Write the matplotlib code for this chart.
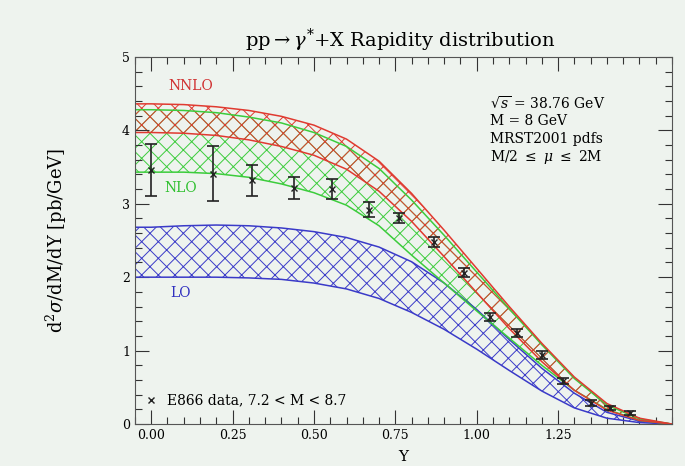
import numpy as np
import matplotlib
matplotlib.use("Agg")
import matplotlib.pyplot as plt
from matplotlib.ticker import MultipleLocator

# rapidity grid for the theory bands
y_grid = [-0.05, 0.0, 0.1, 0.2, 0.3, 0.4, 0.5, 0.6, 0.7, 0.8, 0.9, 1.0, 1.1, 1.2, 1.3, 1.4, 1.5, 1.6]

# NNLO band (red)
nnlo_hi = [4.36, 4.36, 4.35, 4.32, 4.27, 4.19, 4.07, 3.88, 3.58, 3.14, 2.64, 2.12, 1.60, 1.10, 0.64, 0.28, 0.08, 0.0]
nnlo_lo = [3.97, 3.97, 3.96, 3.93, 3.87, 3.78, 3.66, 3.47, 3.17, 2.76, 2.28, 1.79, 1.30, 0.85, 0.46, 0.19, 0.05, 0.0]

# NLO band (green)
nlo_hi = [4.28, 4.28, 4.27, 4.24, 4.18, 4.10, 3.97, 3.78, 3.48, 3.05, 2.57, 2.07, 1.57, 1.08, 0.62, 0.26, 0.07, 0.0]
nlo_lo = [3.43, 3.43, 3.43, 3.41, 3.36, 3.27, 3.15, 2.98, 2.70, 2.30, 1.92, 1.54, 1.17, 0.80, 0.46, 0.20, 0.05, 0.0]

# LO band (blue)
lo_hi = [2.68, 2.68, 2.70, 2.71, 2.70, 2.67, 2.62, 2.54, 2.41, 2.21, 1.92, 1.56, 1.15, 0.76, 0.42, 0.16, 0.04, 0.0]
lo_lo = [2.00, 2.00, 2.00, 2.00, 1.99, 1.97, 1.92, 1.84, 1.71, 1.52, 1.29, 1.02, 0.73, 0.45, 0.22, 0.08, 0.02, 0.0]

# E866 data, 7.2 < M < 8.7
data_y = [0.00, 0.19, 0.31, 0.44, 0.555, 0.67, 0.76, 0.87, 0.96, 1.04, 1.125, 1.20, 1.265, 1.35, 1.41, 1.47]
data_val = [3.46, 3.41, 3.32, 3.22, 3.20, 2.92, 2.81, 2.48, 2.06, 1.46, 1.24, 0.94, 0.59, 0.29, 0.22, 0.15]
data_err = [0.36, 0.37, 0.21, 0.15, 0.14, 0.10, 0.07, 0.07, 0.06, 0.05, 0.05, 0.05, 0.04, 0.04, 0.03, 0.03]

plt.rcParams['font.family'] = ['DejaVu Serif']
plt.rcParams['mathtext.fontset'] = 'dejavuserif'
plt.rcParams['hatch.linewidth'] = 0.7

bg = '#eef3ee'
fig = plt.figure(figsize=(6.85, 4.66), dpi=100, facecolor=bg)
ax = fig.add_axes([0.197, 0.090, 0.784, 0.788], facecolor=bg)

bands = [
    (lo_lo, lo_hi, '#3a3ac8'),
    (nlo_lo, nlo_hi, '#3ccc3c'),
    (nnlo_lo, nnlo_hi, '#e03a30'),
]
for lo, hi, col in bands:
    ax.fill_between(y_grid, lo, hi, facecolor='none', edgecolor=col, hatch='xx', linewidth=0)
    ax.plot(y_grid, hi, color=col, lw=1.1)
    ax.plot(y_grid, lo, color=col, lw=1.1)

ax.errorbar(data_y, data_val, yerr=data_err, fmt='x', color='#222222', ms=4,
            elinewidth=1.2, capsize=4, capthick=1.2, zorder=5)

ax.set_xlim(-0.05, 1.6)
ax.set_ylim(0, 5)
ax.xaxis.set_minor_locator(MultipleLocator(0.05))
ax.yaxis.set_major_locator(MultipleLocator(1))
ax.yaxis.set_minor_locator(MultipleLocator(0.2))
ax.set_xticks([0, 0.25, 0.5, 0.75, 1.0, 1.25])
ax.set_xticklabels(['0.00', '0.25', '0.50', '0.75', '1.00', '1.25'])
ax.tick_params(which='both', direction='in', top=True, right=True, labelsize=9, color='#333333')
ax.tick_params(which='major', length=10, width=0.8)
ax.tick_params(which='minor', length=5, width=0.8)
for s in ax.spines.values():
    s.set_color('#555555')
    s.set_linewidth(0.8)

ax.set_xlabel('Y', fontsize=11, labelpad=6)
ax.set_ylabel(r'd$^2\sigma$/dM/dY [pb/GeV]', fontsize=13, labelpad=38)

fig.text(0.585, 0.914, r'pp$\rightarrow\gamma^{*}$+X Rapidity distribution',
         ha='center', va='center', fontsize=14)

ax.text(0.12, 4.6, 'NNLO', color='#d03030', fontsize=10, ha='center', va='center')
ax.text(0.09, 3.21, 'NLO', color='#30c030', fontsize=10, ha='center', va='center')
ax.text(0.09, 1.78, 'LO', color='#3030c0', fontsize=10, ha='center', va='center')

info = ['$\\sqrt{s}$ = 38.76 GeV', 'M = 8 GeV', 'MRST2001 pdfs', r'M/2 $\leq$ $\mu$ $\leq$ 2M']
for i, line in enumerate(info):
    ax.text(1.04, 4.37 - i * 0.245, line, fontsize=10, va='center')

ax.plot([0.0], [0.33], 'x', color='#222222', ms=4)
ax.text(0.05, 0.33, 'E866 data, 7.2 < M < 8.7', fontsize=10, va='center')

fig.savefig('out.png', dpi=100, facecolor=bg)
